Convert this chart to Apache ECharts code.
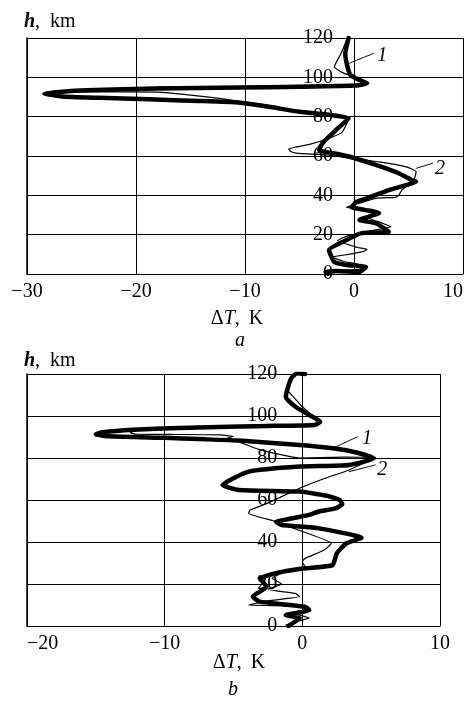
<!DOCTYPE html>
<html><head><meta charset="utf-8">
<script src="https://cdn.jsdelivr.net/npm/echarts@6/dist/echarts.min.js"></script>
<style>html,body{margin:0;padding:0;background:#fff}#c{width:467px;height:704px}</style>
</head><body><div id="c"></div>
<script>
// ---- ticks; profile points are [ΔT (K), h (km)] ----
const xTicksA = [-30, -20, -10, 0, 10];
const xTicksB = [-20, -10, 0, 10];
const hTicks = [0, 20, 40, 60, 80, 100, 120];

// ---- panel a ----
const a_curve1 = [[-0.5,120],[-0.8,112],[-0.6,105.4],[-0.3,101],[0.5,98.6],[1.2,97],[0.2,95.8],[-5,95.2],[-10.6,94.8],[-18,94.3],[-24.5,93.4],[-27,92.6],[-28.4,91.8],[-26.8,90.3],[-23.4,89.6],[-18.8,88.8],[-14.2,88],[-10.6,87.2],[-7.8,85],[-5,82.5],[-2,80.8],[-0.5,79.2],[-1.5,74],[-2.9,66.5],[-3.2,63],[-1.5,61],[0,59],[2,55.5],[4,51.5],[5.3,47.8],[5.7,47],[3.2,42.7],[1.4,39],[0.2,36.6],[-0.2,34],[1.1,32.5],[2.3,31],[0.5,27.5],[2.0,25.8],[3.2,21.4],[0.7,20.8],[-0.7,17.3],[-2.3,12.2],[-1.8,6.1],[-0.7,4.6],[1.1,3.6],[0.5,1],[-1.5,1.5],[-2.6,1],[-2.4,0]];
const a_curve2 = [[-0.6,120],[-1.2,112],[-1.8,105.4],[-0.9,102],[0,100.3],[0.8,98.2],[1.0,97.2],[0,96.2],[-6,95.8],[-12,95.2],[-18,95],[-22,94],[-26,93],[-27.5,92.5],[-24,92.6],[-18,92.5],[-15,91],[-12,89],[-10.3,87.6],[-7.5,85.5],[-4.4,81.5],[-3,81],[-1,80],[-0.5,79],[-1.1,72],[-2.3,69],[-4,66],[-6,63.5],[-5.8,62.3],[-5.3,61.5],[-2.5,60.5],[-0.5,59],[2.3,57],[4.8,54.5],[5.7,52],[5.5,48],[4.4,42.7],[4.1,40],[3.8,39],[2,38.5],[0.5,36],[-0.7,34],[0.8,33],[1.8,31.5],[1.4,28.5],[2.5,26],[3.4,24],[1.5,22],[-0.5,19.5],[-1.5,17],[0.3,13.5],[1.2,12.5],[0.9,11.5],[-0.5,10],[-2,8.6],[-1.0,6.5],[0.3,5],[1.1,3.2],[-0.2,2],[-2.2,1.2],[-2.6,0]];
const a_leader1 = [[-0.5,107],[1.8,112.2]];
const a_leader2 = [[5.7,53.7],[7.2,56.3]];
const a_labels = [[2.6,110.8,'1'],[7.9,53.7,'2']];

// ---- panel b ----
const b_curve1 = [[0.2,120],[-0.4,120.3],[-0.8,118],[-1.1,112.4],[-1.2,109],[-0.5,104.4],[0.5,100.5],[1.3,97.3],[0.9,95.7],[-2,95.3],[-4.6,95],[-9,94.3],[-12.3,93.5],[-14.5,92.3],[-15,91.3],[-14,90.3],[-10,89.6],[-7.5,89],[-4.6,88.3],[-0.2,86.2],[2.2,84.6],[4,82.5],[5.2,79.9],[3.4,76.7],[-0.2,75.9],[-3.9,73.5],[-5.8,67.1],[-4.6,64.8],[-0.2,64],[1.8,62],[2.7,60],[2.9,58],[2.4,56],[1.2,54.5],[0.5,52.9],[-1.9,49.5],[-1.5,48.1],[1.2,46.5],[4.3,42],[3.2,39.4],[2.5,34.6],[2.2,29],[0.2,27.5],[-1.4,25.9],[-3.1,22.7],[-2.6,18.7],[-3.6,14],[-3.1,11.6],[0.2,9.2],[0.5,7.6],[-1.2,5.2],[-0.2,3.7],[-0.7,1.3],[-1,0]];
const b_curve2 = [[0.2,120],[-0.4,120.3],[-0.8,118],[-1.1,113],[-0.5,108],[0,104.4],[0.6,101],[1.3,97.5],[0.9,95.8],[-4.6,95.2],[-9,94.5],[-12,93.3],[-12.5,92],[-12,91.3],[-9,91.2],[-6,91],[-5,90.2],[-5.5,89.4],[-5,88.6],[-3.1,84],[-0.2,80],[3,80.4],[5.3,80.2],[4.3,77],[3.4,74.3],[1.5,70],[-0.2,65.6],[-1.5,61.6],[-2.7,58],[-3.8,55.2],[-3.9,53.7],[-1.9,49.7],[-0.3,45.7],[2.1,39.4],[1.6,36.2],[0.2,32.2],[0,30.6],[0.2,28.2],[-1,26.5],[-2.2,22.7],[-1.5,20],[-2.5,17.5],[-0.5,15.5],[-0.2,14],[-2.5,12],[-3.9,10],[-0.3,9.5],[0.3,8],[-0.5,6],[0.5,3.8],[-0.2,2.5],[-1.2,0.5]];
const b_leader1 = [[2.2,84.6],[4.0,90.1]];
const b_leader2 = [[3.4,73.5],[5.3,76.7]];
const b_labels = [[4.7,89.4,'1'],[5.8,74.3,'2']];

const F = 'Liberation Serif';
const FS = 20;
const BLACK = '#000';

function xAxis(gi, ticks, alignMin, alignMax) {
  return {
    gridIndex: gi, type: 'value', min: ticks[0], max: ticks[ticks.length - 1], interval: 10,
    axisLine: { show: true, onZero: false, lineStyle: { color: BLACK, width: 1 } },
    axisTick: { show: false },
    splitLine: { show: true, lineStyle: { color: BLACK, width: 1 } },
    axisLabel: { margin: 8, fontFamily: F, fontSize: FS, color: BLACK,
      alignMinLabel: alignMin, alignMaxLabel: alignMax,
      formatter: v => String(v).replace('-', '\u2212') }
  };
}
function yAxis(gi) {
  return {
    gridIndex: gi, type: 'value', min: hTicks[0], max: hTicks[hTicks.length - 1], interval: 20,
    axisLine: { show: true, onZero: false, lineStyle: { color: BLACK, width: 1.5 } },
    axisTick: { show: false },
    splitLine: { show: true, lineStyle: { color: BLACK, width: 1 } },
    axisLabel: { show: false }
  };
}
function curve(gi, data, w, z) {
  return { type: 'line', xAxisIndex: gi, yAxisIndex: gi, data: data, symbol: 'none',
    smooth: 0.15, lineStyle: { color: BLACK, width: w, join: 'round', cap: 'round' }, z: z, silent: true };
}
function labels(gi, data, pos, dist, italic) {
  return { type: 'scatter', xAxisIndex: gi, yAxisIndex: gi, data: data, symbolSize: 0,
    itemStyle: { color: BLACK, opacity: 1 }, z: 6, silent: true,
    label: { show: true, position: pos, distance: dist, formatter: p => p.data[2],
      fontFamily: F, fontSize: FS, fontStyle: italic ? 'italic' : 'normal', color: BLACK,
      textBorderWidth: 0, opacity: 1 } };
}
const hLabelPts = hTicks.map(h => [0, h, String(h)]);

const richH = { h: { fontFamily: F, fontSize: FS, fontStyle: 'italic', fontWeight: 'bold', color: BLACK },
                t: { fontFamily: F, fontSize: FS, fontWeight: 'normal', color: BLACK } };
const richT = { n: { fontFamily: F, fontSize: FS, fontWeight: 'normal', color: BLACK },
                i: { fontFamily: F, fontSize: FS, fontWeight: 'normal', fontStyle: 'italic', color: BLACK } };
function ttl(text, left, top, rich) {
  return { text: text, left: left, top: top, padding: 0, textAlign: 'center',
    textStyle: { rich: rich, fontFamily: F, fontSize: FS, fontWeight: 'normal', color: BLACK } };
}

const chart = echarts.init(document.getElementById('c'), null, { renderer: 'canvas' });
chart.setOption({
  animation: false,
  backgroundColor: '#fff',
  title: [
    { text: '{h|h}{t|,  km}', left: 24, top: 12, padding: 0, textStyle: { rich: richH, fontWeight: 'normal' } },
    ttl('{n|Δ}{i|T}{n|,\u2009 K}', 237, 309, richT),
    ttl('{i|a}', 240, 331, richT),
    { text: '{h|h}{t|,  km}', left: 24, top: 351, padding: 0, textStyle: { rich: richH, fontWeight: 'normal' } },
    ttl('{n|Δ}{i|T}{n|,\u2009 K}', 239, 653, richT),
    ttl('{i|b}', 233, 680, richT)
  ],
  grid: [
    { left: 27, top: 38, width: 436, height: 236, containLabel: false, outerBoundsMode: 'none' },
    { left: 27, top: 374, width: 413, height: 252, containLabel: false, outerBoundsMode: 'none' }
  ],
  xAxis: [xAxis(0, xTicksA, 'center', 'right'), xAxis(1, xTicksB, 'left', 'center')],
  yAxis: [yAxis(0), yAxis(1)],
  series: [
    curve(0, a_curve1, 4.5, 3),
    curve(0, a_curve2, 1.2, 4),
    curve(0, a_leader1, 1, 5),
    curve(0, a_leader2, 1, 5),
    labels(0, a_labels, 'inside', 0, true),
    labels(0, hLabelPts, 'left', 21, false),
    curve(1, b_curve1, 4.5, 3),
    curve(1, b_curve2, 1.2, 4),
    curve(1, b_leader1, 1, 5),
    curve(1, b_leader2, 1, 5),
    labels(1, b_labels, 'inside', 0, true),
    labels(1, hLabelPts, 'left', 25, false)
  ]
});
</script>
</body></html>
